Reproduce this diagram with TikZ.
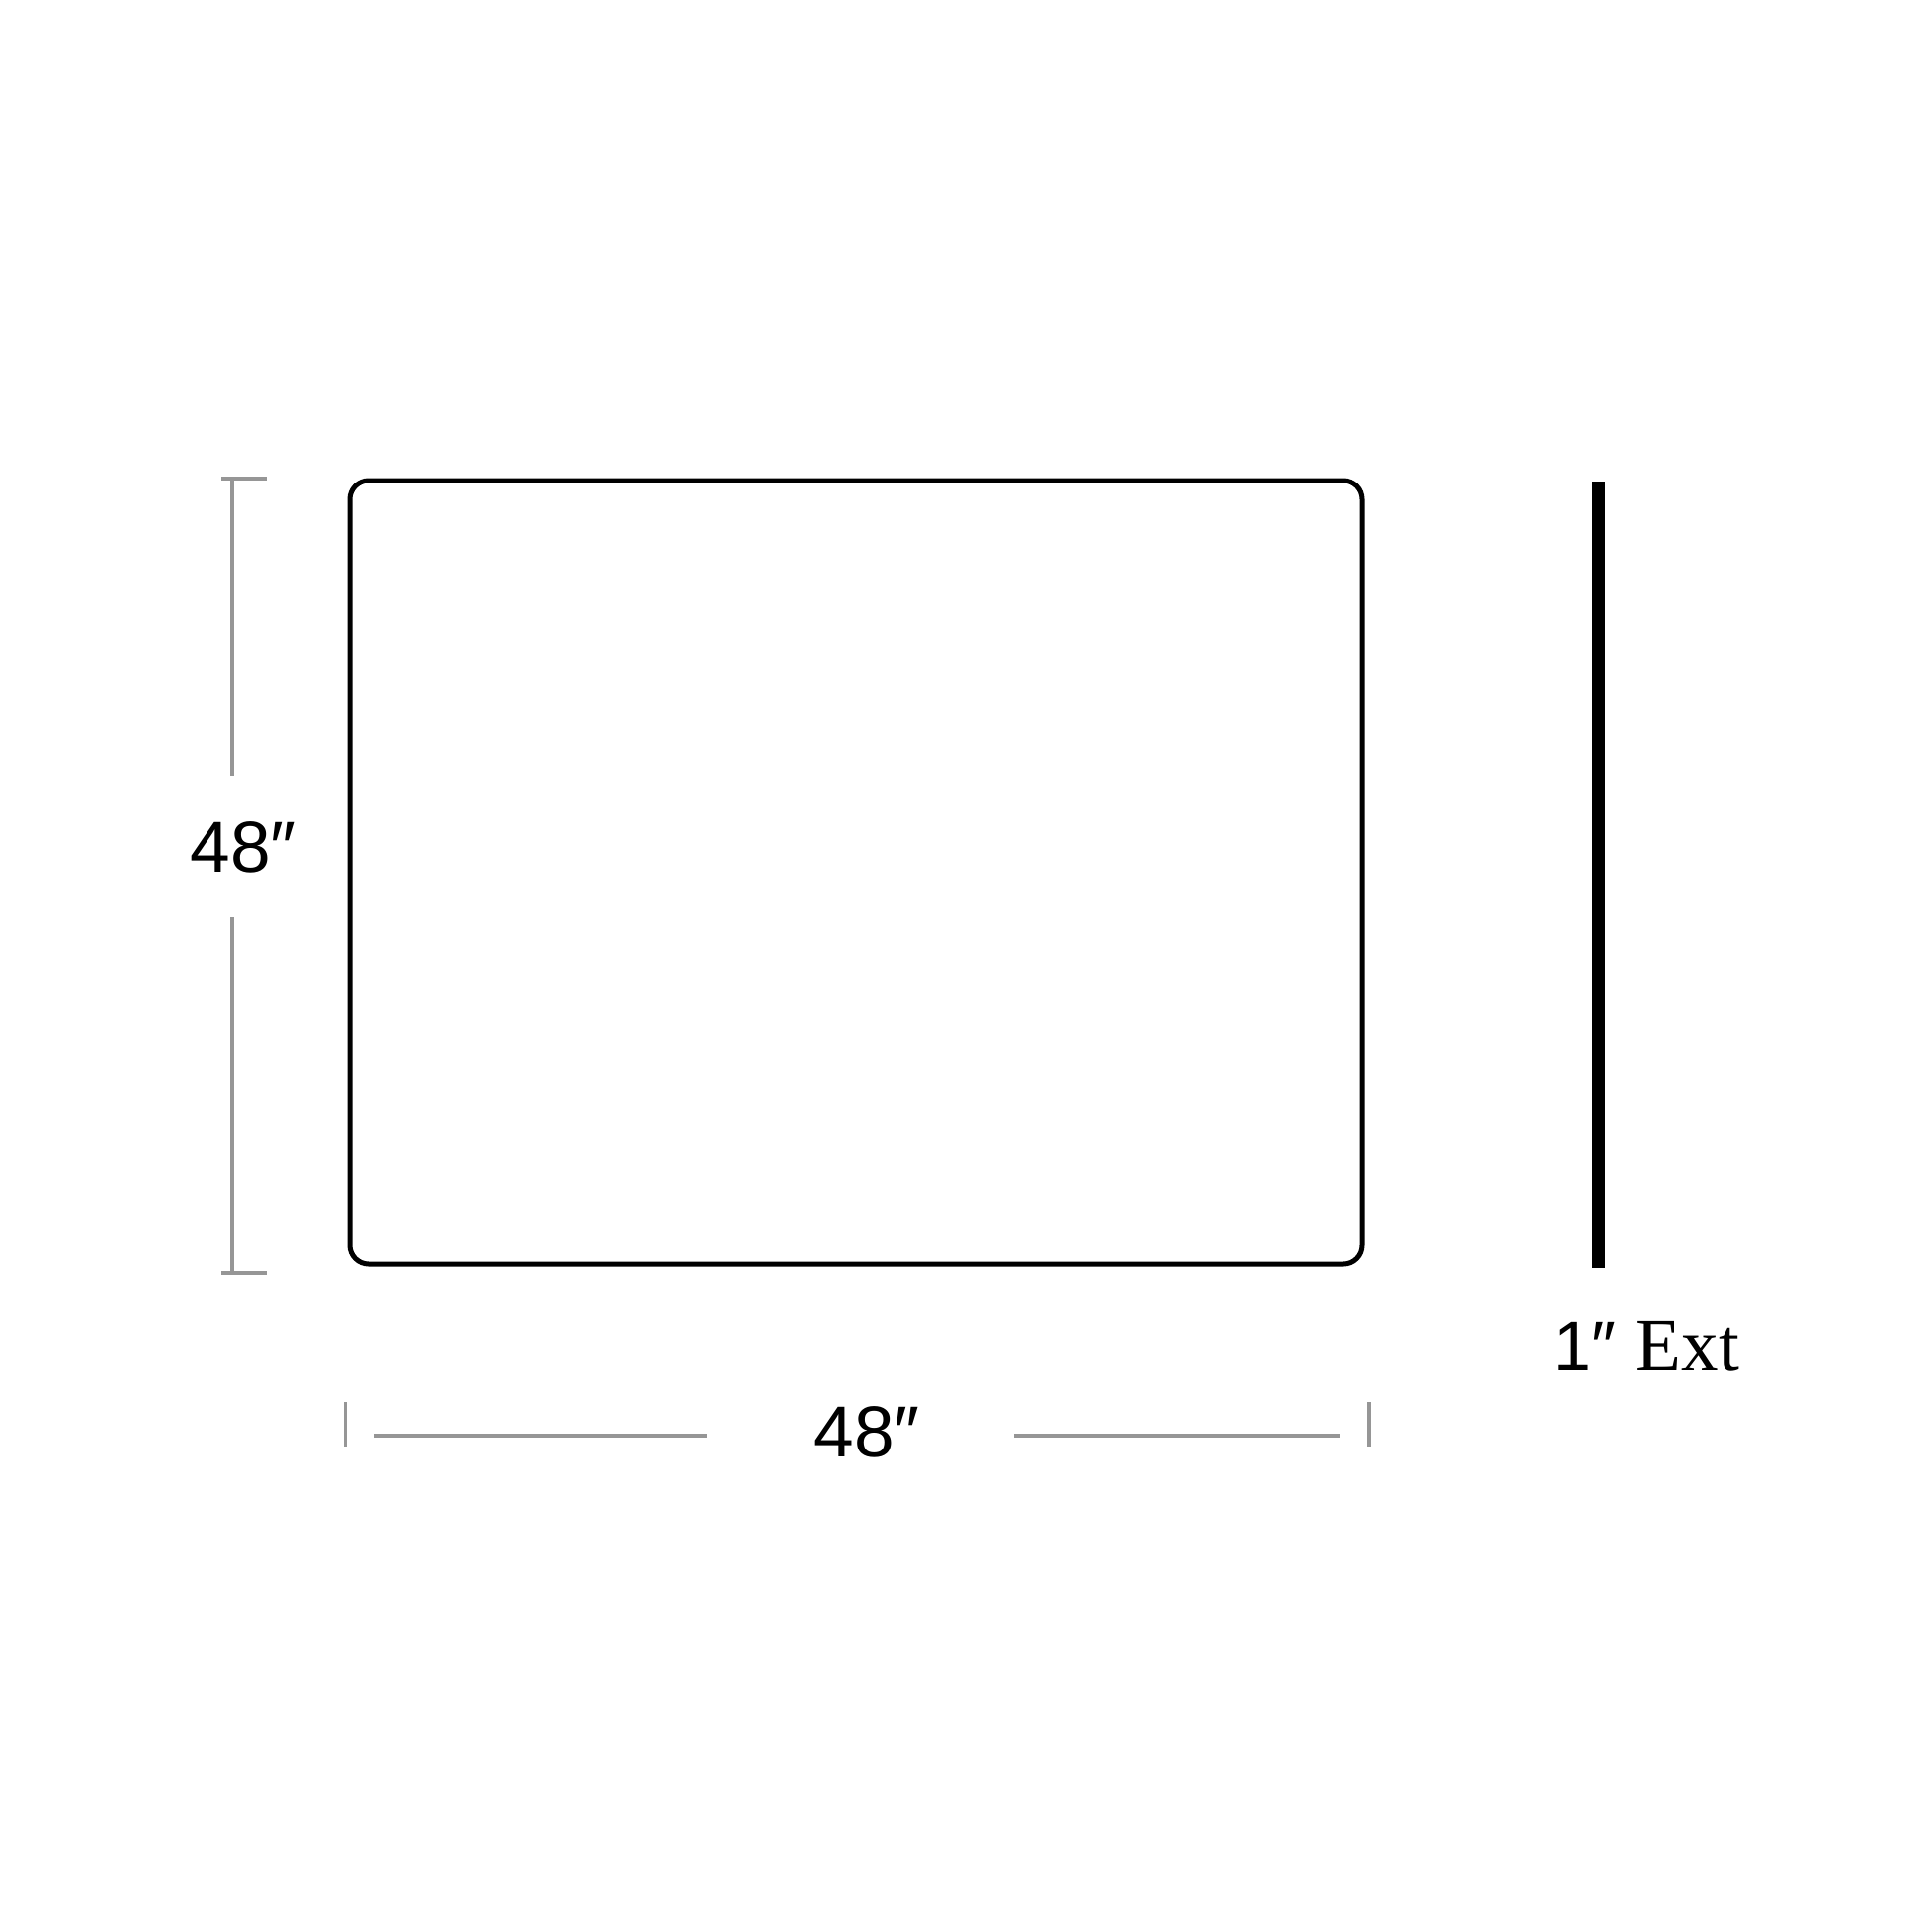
\documentclass[tikz,border=0pt]{standalone}
\usepackage{fontspec}
\setmainfont{Liberation Serif}
\newfontfamily\dimsans{Liberation Sans}
\begin{document}
\begin{tikzpicture}[x=1pt,y=-1pt,
  dimline/.style={draw={rgb,255:red,150;green,150;blue,150},line width=4.5pt},
  panelbox/.style={draw=black,line width=5pt,rounded corners=19pt,minimum width=1019pt,minimum height=789pt,inner sep=0pt},
  dimtext/.style={font=\dimsans\fontsize{73}{80}\selectfont,inner sep=0pt,anchor=base},
  exttext/.style={font=\fontsize{75}{80}\selectfont,inner sep=0pt,anchor=base west}]
\useasboundingbox (0,0) rectangle (1946,1946);
% main panel
\node[panelbox] (panel) at (862.5,878.5) {};
% side bar (1" extension)
\coordinate (bartop) at (1610,485);
\coordinate (barbot) at (1610,1277);
\draw[line width=13pt,black] (bartop) -- (barbot);
\node[exttext] (ext) at (1564,1380) {{\dimsans\fontsize{70}{80}\selectfont 1″}\hspace{20pt}Ext};
% left dimension
\coordinate (lt1) at (223,482);
\coordinate (lt2) at (269,482);
\coordinate (lb1) at (223,1282);
\coordinate (lb2) at (269,1282);
\coordinate (lv1) at (234,482);
\coordinate (lv2) at (234,782);
\coordinate (lv3) at (234,924);
\coordinate (lv4) at (234,1282);
\draw[dimline] (lt1) -- (lt2);
\draw[dimline] (lb1) -- (lb2);
\draw[dimline] (lv1) -- (lv2);
\draw[dimline] (lv3) -- (lv4);
\node[dimtext] (hdim) at (245,878) {48″};
% bottom dimension
\coordinate (bl1) at (348,1412);
\coordinate (bl2) at (348,1457);
\coordinate (br1) at (1379,1412);
\coordinate (br2) at (1379,1457);
\coordinate (bh1) at (377,1446);
\coordinate (bh2) at (712,1446);
\coordinate (bh3) at (1021,1446);
\coordinate (bh4) at (1350,1446);
\draw[dimline] (bl1) -- (bl2);
\draw[dimline] (br1) -- (br2);
\draw[dimline] (bh1) -- (bh2);
\draw[dimline] (bh3) -- (bh4);
\node[dimtext] (wdim) at (873,1467) {48″};
\end{tikzpicture}
\end{document}
